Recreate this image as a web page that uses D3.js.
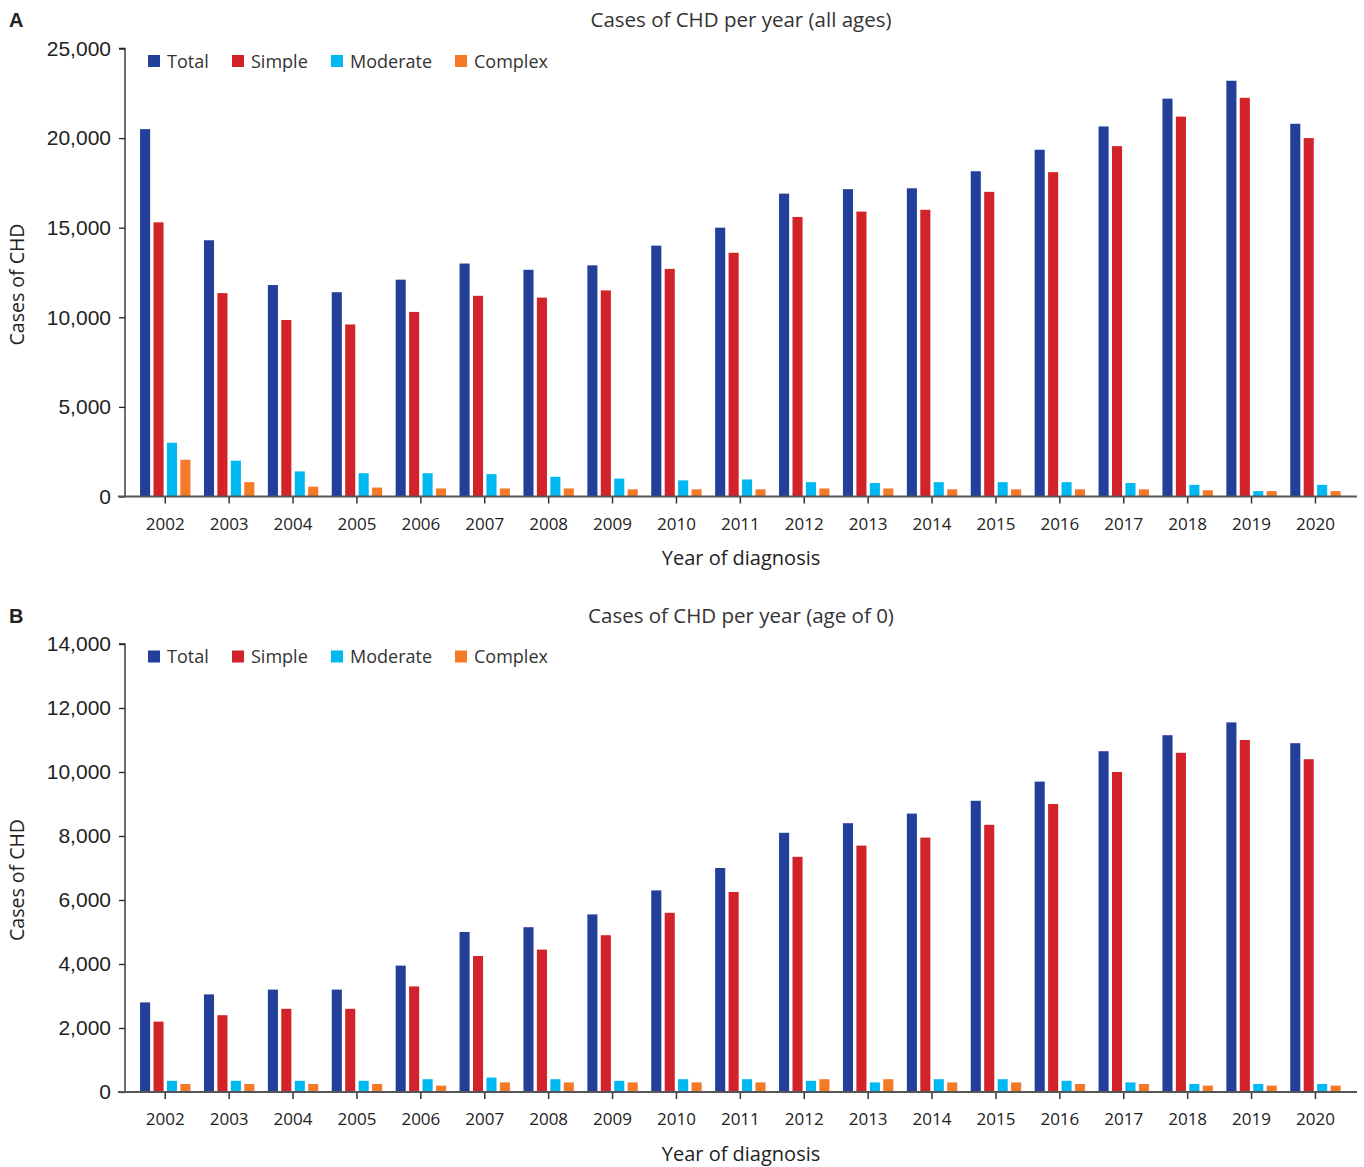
<!DOCTYPE html>
<html>
<head>
<meta charset="utf-8">
<script src="https://cdn.jsdelivr.net/npm/d3@7"></script>
<style>
  body { margin: 0; background: #fff; }
  svg { display: block; }
</style>
</head>
<body>
<svg id="chart" width="1364" height="1167"></svg>
<script>
// Year of diagnosis
const years = ["2002","2003","2004","2005","2006","2007","2008","2009","2010","2011",
               "2012","2013","2014","2015","2016","2017","2018","2019","2020"];

const seriesNames = ["Total", "Simple", "Moderate", "Complex"];
const seriesColors = ["#223f99", "#d2232a", "#00b9f1", "#f47a27"];

// Panel A: cases of CHD per year, all ages
const allTotal    = [20500,14300,11800,11400,12100,13000,12650,12900,14000,15000,16900,17150,17200,18150,19350,20650,22200,23200,20800];
const allSimple   = [15300,11350, 9850, 9600,10300,11200,11100,11500,12700,13600,15600,15900,16000,17000,18100,19550,21200,22250,20000];
const allModerate = [ 3000, 2000, 1400, 1300, 1300, 1250, 1100, 1000,  900,  950,  800,  750,  800,  800,  800,  750,  650,  300,  650];
const allComplex  = [ 2050,  800,  550,  500,  450,  450,  450,  400,  400,  400,  450,  450,  400,  400,  400,  400,  350,  300,  300];

// Panel B: cases of CHD per year, age 0
const infTotal    = [2800,3050,3200,3200,3950,5000,5150,5550,6300,7000,8100,8400,8700,9100,9700,10650,11150,11550,10900];
const infSimple   = [2200,2400,2600,2600,3300,4250,4450,4900,5600,6250,7350,7700,7950,8350,9000,10000,10600,11000,10400];
const infModerate = [ 350, 350, 350, 350, 400, 450, 400, 350, 400, 400, 350, 300, 400, 400, 350,  300,  250,  250,  250];
const infComplex  = [ 250, 250, 250, 250, 200, 300, 300, 300, 300, 300, 400, 400, 300, 300, 250,  250,  200,  200,  200];

const yTicksA = [0, 5000, 10000, 15000, 20000, 25000];
const yTicksB = [0, 2000, 4000, 6000, 8000, 10000, 12000, 14000];

const svg = d3.select("#chart");
const labelFont = "'Open Sans', 'Noto Sans', sans-serif";
const numFont = "'Liberation Sans', Arial, sans-serif";

function panel(opts) {
  const { top, letter, title, series, yMax, yTicks } = opts;
  const g = svg.append("g").attr("transform", `translate(0,${top})`);
  const plotTop = 48.5, plotBottom = 496.5;
  const axisX = 125;

  const x = d3.scaleBand().domain(years).range([133.3, 1347.4]).padding(0);
  const x1 = d3.scaleBand().domain(seriesNames).range([-25.2, 25.2]).paddingInner(0.25).paddingOuter(0);
  const y = d3.scaleLinear().domain([0, yMax]).range([plotBottom, plotTop]);

  // panel letter and title
  g.append("text").attr("x", 9).attr("y", 27)
    .attr("font-family", "'Liberation Sans', Arial, sans-serif").attr("font-weight", "bold")
    .attr("font-size", 20).attr("fill", "#222").text(letter);
  g.append("text").attr("x", 741).attr("y", 27).attr("text-anchor", "middle")
    .attr("font-family", labelFont).attr("font-size", 20.5).attr("fill", "#333").text(title);

  // bars
  const rows = years.map((yr, i) => ({ yr, vals: series.map((s, k) => ({ k, v: s[i] })) }));
  const grp = g.selectAll("g.year").data(rows).join("g")
    .attr("transform", d => `translate(${x(d.yr) + x.bandwidth() / 2},0)`);
  grp.selectAll("rect").data(d => d.vals).join("rect")
    .attr("x", d => x1(seriesNames[d.k]))
    .attr("width", x1.bandwidth())
    .attr("y", d => y(d.v))
    .attr("height", d => y(0) - y(d.v))
    .attr("fill", d => seriesColors[d.k]);

  // y axis
  const yAxis = g.append("g").attr("transform", `translate(${axisX},0)`)
    .call(d3.axisLeft(y).tickValues(yTicks).tickSize(6).tickPadding(8)
      .tickFormat(d3.format(",")));
  yAxis.select(".domain").attr("stroke", "#222").attr("stroke-width", 1.3)
    .attr("d", `M-6,${plotTop}H0V${plotBottom}`);
  yAxis.selectAll(".tick line").attr("stroke", "#222").attr("stroke-width", 1.3);
  yAxis.selectAll(".tick text").attr("font-family", numFont).attr("font-size", 21).attr("fill", "#222");

  // x axis
  const xAxis = g.append("g").attr("transform", `translate(0,${plotBottom})`)
    .call(d3.axisBottom(x).tickSize(7).tickPadding(14));
  xAxis.select(".domain").remove();
  xAxis.append("line").attr("x1", 118).attr("x2", 1357).attr("y1", 0).attr("y2", 0)
    .attr("stroke", "#555").attr("stroke-width", 2);
  xAxis.selectAll(".tick line").attr("stroke", "#333").attr("stroke-width", 1.5);
  xAxis.selectAll(".tick text").attr("font-family", labelFont).attr("font-size", 17).attr("fill", "#222");

  // axis titles
  g.append("text").attr("x", 741).attr("y", 565).attr("text-anchor", "middle")
    .attr("font-family", labelFont).attr("font-size", 20).attr("fill", "#222").text("Year of diagnosis");
  g.append("text").attr("transform", `translate(24,${(plotTop + plotBottom) / 2 + 12}) rotate(-90)`)
    .attr("text-anchor", "middle")
    .attr("font-family", labelFont).attr("font-size", 19.5).attr("fill", "#222").text("Cases of CHD");

  // legend
  const legendX = [148, 232, 331, 455];
  const leg = g.selectAll("g.legend").data(seriesNames).join("g")
    .attr("transform", (d, i) => `translate(${legendX[i]},55)`);
  leg.append("rect").attr("width", 12).attr("height", 12).attr("fill", (d, i) => seriesColors[i]);
  leg.append("text").attr("x", 19).attr("y", 12.5)
    .attr("font-family", labelFont).attr("font-size", 18).attr("fill", "#333").text(d => d);
}

panel({ top: 0, letter: "A", title: "Cases of CHD per year (all ages)",
        series: [allTotal, allSimple, allModerate, allComplex], yMax: 25000, yTicks: yTicksA });
panel({ top: 595.5, letter: "B", title: "Cases of CHD per year (age of 0)",
        series: [infTotal, infSimple, infModerate, infComplex], yMax: 14000, yTicks: yTicksB });
</script>
</body>
</html>
